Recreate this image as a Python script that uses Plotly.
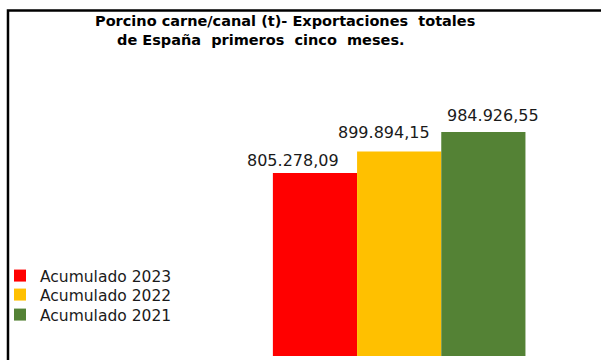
import plotly.graph_objects as go

series_names = ["Acumulado 2023", "Acumulado 2022", "Acumulado 2021"]
values = [805278.09, 899894.15, 984926.55]
value_labels = ["805.278,09", "899.894,15", "984.926,55"]
colors = ["#FF0000", "#FFC000", "#548235"]
title_lines = ["Porcino carne/canal (t)- Exportaciones  totales",
               "de España  primeros  cinco  meses."]

W, H = 601, 360
ML, MR, MT, MB = 0, 0, 0, 4
plot_w = W - ML - MR
plot_h = H - MT - MB
units_per_px = 4398.0
bar_px = 84.33
red_center_px = 314.5

x_left = -(red_center_px - ML) / bar_px
x_right = x_left + plot_w / bar_px

def py(p):
    return 1 - (p - MT) / plot_h

def px(p):
    return (p - ML) / plot_w

legend_keys = ["legend", "legend2", "legend3"]
legend_tops = [259, 278, 298]

fig = go.Figure()
for i, (name, v, c) in enumerate(zip(series_names, values, colors)):
    fig.add_trace(go.Bar(x=[i], y=[v], name=name, marker=dict(color=c, line=dict(width=0)),
                         width=1.0, hoverinfo="skip", legend=legend_keys[i]))

label_xshift = [-21.5, -15, 10]
label_yshift = [12, 18.5, 17]
for i, (v, t) in enumerate(zip(values, value_labels)):
    fig.add_annotation(x=i, y=v, text=t, showarrow=False, xanchor="center", yanchor="middle",
                       xshift=label_xshift[i], yshift=label_yshift[i],
                       font=dict(family="DejaVu Sans", size=16, color="#1a1a1a"))

title_cx = [284.5, 260]
title_cy = [20.5, 39.5]
for t, cx, cy in zip(title_lines, title_cx, title_cy):
    fig.add_annotation(xref="paper", yref="paper", x=px(cx), y=py(cy),
                       text="<b>" + t + "</b>", showarrow=False,
                       xanchor="center", yanchor="middle",
                       font=dict(family="DejaVu Sans", size=14.5, color="#000000"))

# chart border (cropped on right/bottom)
fig.add_shape(type="rect", xref="paper", yref="paper",
              x0=px(7), x1=1.05, y0=-0.1, y1=py(10.5),
              line=dict(color="#000000", width=2.5), fillcolor="rgba(0,0,0,0)", layer="above")

legend_font = dict(family="DejaVu Sans", size=15.5, color="#1a1a1a")
legend_layout = {}
for key, top in zip(legend_keys, legend_tops):
    legend_layout[key] = dict(x=px(-1), y=py(top), xanchor="left", yanchor="top",
                              font=legend_font, bgcolor="rgba(0,0,0,0)", itemwidth=30)

fig.update_layout(
    width=W, height=H,
    margin=dict(l=ML, r=MR, t=MT, b=MB),
    paper_bgcolor="white", plot_bgcolor="white",
    barmode="overlay",
    showlegend=True,
    xaxis=dict(range=[x_left, x_right], visible=False, fixedrange=True),
    yaxis=dict(range=[0, plot_h * units_per_px], visible=False, fixedrange=True),
    **legend_layout,
)

fig.write_html("out.html", config={"displayModeBar": False},
               post_script="document.body.style.margin='0';")
